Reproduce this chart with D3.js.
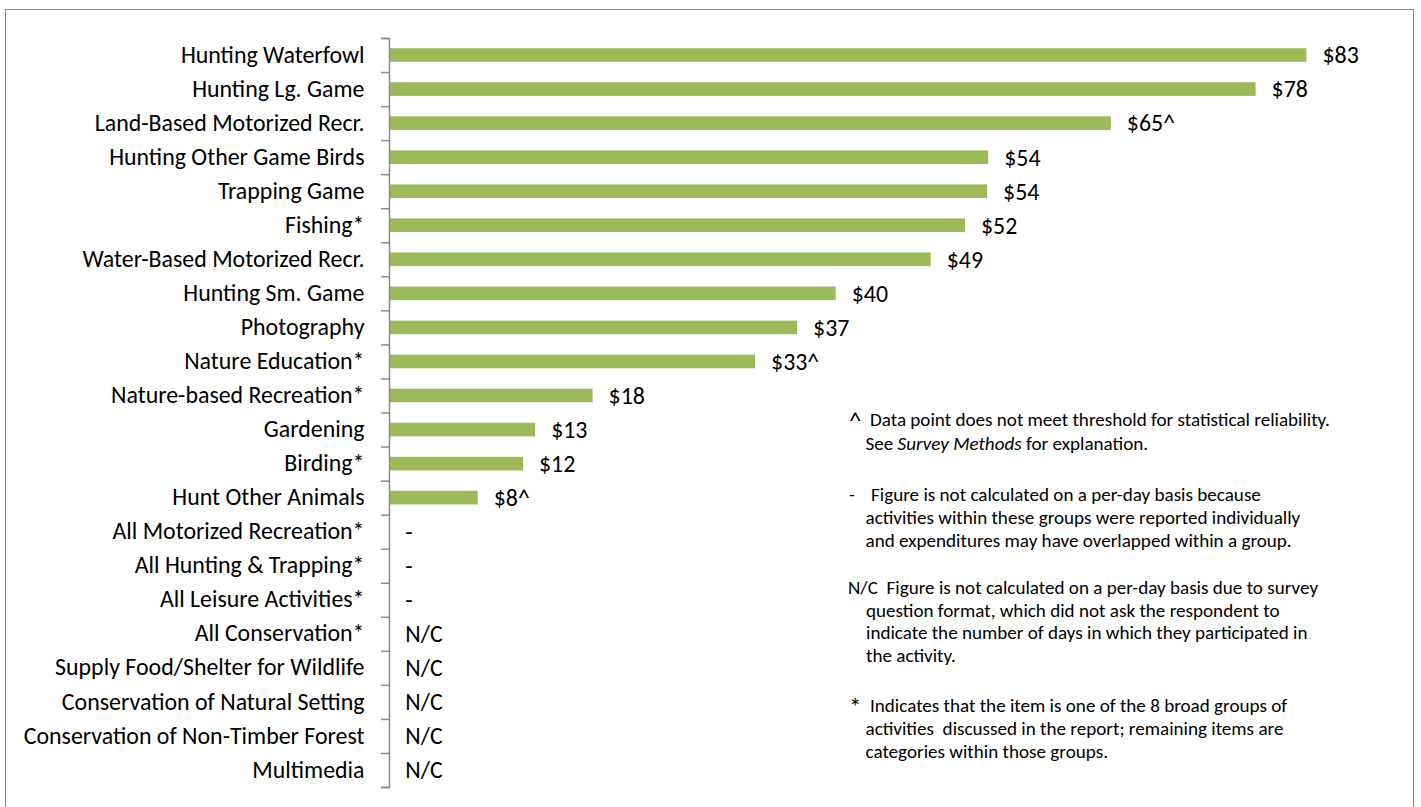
<!DOCTYPE html>
<html>
<head>
<meta charset="utf-8">
<script src="https://cdn.jsdelivr.net/npm/d3@7"></script>
<style>
  html, body { margin: 0; padding: 0; background: #fff; }
  svg text { font-family: Carlito, Calibri, Lato, "Open Sans", sans-serif; fill: #000; white-space: pre; }
</style>
</head>
<body>
<svg id="chart" width="1421" height="807"></svg>
<script>
const categories = [
  "Hunting Waterfowl", "Hunting Lg. Game", "Land-Based Motorized Recr.", "Hunting Other Game Birds",
  "Trapping Game", "Fishing*", "Water-Based Motorized Recr.", "Hunting Sm. Game", "Photography",
  "Nature Education*", "Nature-based Recreation*", "Gardening", "Birding*", "Hunt Other Animals",
  "All Motorized Recreation*", "All Hunting & Trapping*", "All Leisure Activities*", "All Conservation*",
  "Supply Food/Shelter for Wildlife", "Conservation of Natural Setting", "Conservation of Non-Timber Forest", "Multimedia"
];
const values = [83.0, 78.4, 65.3, 54.2, 54.1, 52.1, 49.0, 40.4, 36.9, 33.1, 18.4, 13.2, 12.1, 8.0,
  null, null, null, null, null, null, null, null];
const valueLabels = ["$83", "$78", "$65^", "$54", "$54", "$52", "$49", "$40", "$37", "$33^", "$18", "$13", "$12", "$8^",
  "-", "-", "-", "N/C", "N/C", "N/C", "N/C", "N/C"];
const xDomain = [0, 90];

const noteSymbols = ["^", "-", "", "*"];
const noteLines = [
  ["Data point does not meet threshold for statistical reliability.", "See |Survey Methods| for explanation."],
  ["Figure is not calculated on a per-day basis because", "activities within these groups were reported individually", "and expenditures may have overlapped within a group."],
  ["N/C  Figure is not calculated on a per-day basis due to survey", "question format, which did not ask the respondent to", "indicate the number of days in which they participated in", "the activity."],
  ["Indicates that the item is one of the 8 broad groups of", "activities  discussed in the report; remaining items are", "categories within those groups."]
];

const svg = d3.select("#chart");

// frame
svg.append("rect").attr("x", 5.5).attr("y", 9.5).attr("width", 1408).attr("height", 820)
  .attr("fill", "none").attr("stroke", "#8c8c8c").attr("stroke-width", 1);

// measure helper to fit font sizes
function fitSize(text, targetWidth, base) {
  const t = svg.append("text").attr("font-size", base).text(text);
  const w = t.node().getComputedTextLength();
  t.remove();
  return base * targetWidth / w;
}
const catSize = fitSize("Conservation of Non-Timber Forest", 341, 20);
const noteSize = fitSize("Data point does not meet threshold for statistical reliability.", 460, 15);

const plotTop = 38, plotBottom = 787, axisX = 389.3;
const y = d3.scaleBand().domain(categories).range([plotTop, plotBottom]).paddingInner(0.6).paddingOuter(0.3);
const x = d3.scaleLinear().domain(xDomain).range([axisX, axisX + 90 * 11.05]);
const tickScale = d3.scaleLinear().domain([0, categories.length]).range([plotTop, plotBottom]);

const rows = categories.map((c, i) => ({c, v: values[i], l: valueLabels[i]}));

// bars
svg.append("g").selectAll("rect")
  .data(rows.filter(d => d.v != null))
  .join("rect")
  .attr("x", x(0))
  .attr("y", d => y(d.c))
  .attr("width", d => x(d.v) - x(0))
  .attr("height", y.bandwidth())
  .attr("fill", "#9BBB59");

// value labels
svg.append("g").selectAll("text")
  .data(rows)
  .join("text")
  .attr("x", d => x(d.v == null ? 0 : d.v) + 16)
  .attr("y", d => y(d.c) + y.bandwidth() / 2)
  .attr("dy", "0.35em")
  .attr("font-size", catSize)
  .text(d => d.l);

// category axis (labels)
const gLab = svg.append("g").attr("transform", `translate(${axisX - 0.3},0)`)
  .call(d3.axisLeft(y).tickSize(0).tickPadding(24.5));
gLab.select(".domain").remove();
gLab.selectAll("text").attr("font-size", catSize).attr("font-family", null).attr("fill", "#000");
gLab.attr("font-family", null).attr("font-size", null);

// tick marks between categories + axis line
const gTick = svg.append("g").attr("transform", `translate(${axisX - 0.3},0)`)
  .call(d3.axisLeft(tickScale).tickValues(d3.range(categories.length + 1)).tickFormat("").tickSize(8).tickSizeOuter(8));
gTick.selectAll("line").attr("stroke", "#8c8c8c").attr("stroke-width", 1.5);
gTick.select(".domain").attr("stroke", "#8c8c8c").attr("stroke-width", 1.5);

// notes
const noteStarts = [421, 496, 589, 707];
const lineGap = [24, 23, 22.5, 23];
const symX = 849, firstX = [870, 871, 848, 870], restX = 865.5;
const notes = svg.append("g");
noteLines.forEach((lines, ni) => {
  if (noteSymbols[ni]) {
    notes.append("text")
      .attr("x", symX)
      .attr("y", noteStarts[ni] + (noteSymbols[ni] === "-" ? 5 : 8))
      .attr("font-size", noteSymbols[ni] === "-" ? noteSize : noteSize * 1.3)
      .text(noteSymbols[ni]);
  }
  lines.forEach((ln, li) => {
    const t = notes.append("text")
      .attr("x", li === 0 ? firstX[ni] : (ni === 2 ? 866 : restX))
      .attr("y", noteStarts[ni] + li * lineGap[ni] + 5)
      .attr("font-size", noteSize);
    ln.split("|").forEach((part, pi) => {
      t.append("tspan").attr("font-style", pi % 2 === 1 ? "italic" : null).text(part);
    });
  });
});
</script>
</body>
</html>
